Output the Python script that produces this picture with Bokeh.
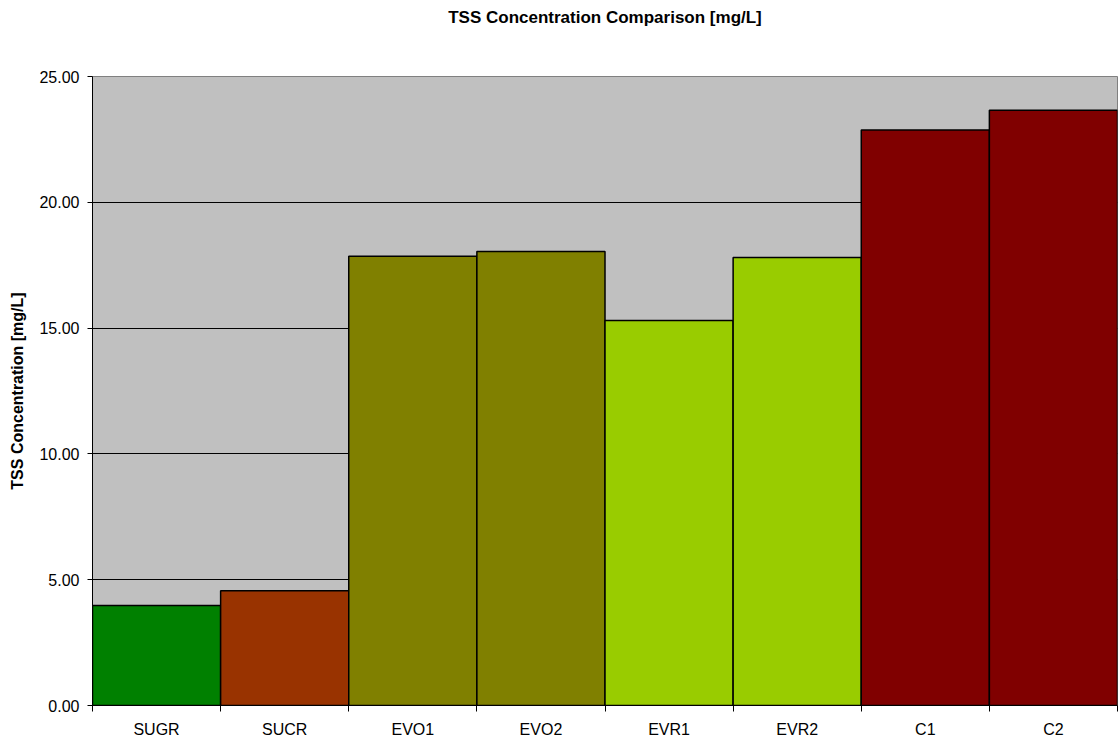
from bokeh.plotting import figure
from bokeh.models import ColumnDataSource, FixedTicker, NumeralTickFormatter, Range1d, Title
from bokeh.embed import file_html
from bokeh.resources import INLINE

categories = ["SUGR", "SUCR", "EVO1", "EVO2", "EVR1", "EVR2", "C1", "C2"]
values = [3.97, 4.56, 17.86, 18.04, 15.30, 17.81, 22.87, 23.66]
colors = ["#008000", "#993300", "#808000", "#808000", "#99CC00", "#99CC00", "#800000", "#800000"]
title_text = "TSS Concentration Comparison [mg/L]"

centers = [i + 0.5 for i in range(len(categories))]
src = ColumnDataSource(dict(x=centers, top=values, color=colors, cat=categories))

FONT = "Liberation Sans"

p = figure(width=1119, height=742, output_backend="svg", toolbar_location=None,
           x_range=Range1d(0, len(categories)), y_range=Range1d(0, 25),
           min_border_left=92, min_border_right=2, min_border_top=76, min_border_bottom=37)

# spacer between frame and title (nearest to frame)
p.add_layout(Title(text=" ", text_font=FONT, text_font_size="17px", standoff=20), "above")
p.add_layout(Title(text=title_text, align="center", vertical_align="top", standoff=14,
                   text_font=FONT, text_font_size="17px", text_font_style="bold",
                   text_color="black"), "above")

p.background_fill_color = "#C0C0C0"
p.border_fill_color = "white"
p.outline_line_color = "#808080"
p.outline_line_width = 1

p.vbar(x="x", top="top", bottom=0, width=1.0, source=src,
       fill_color="color", line_color="black", line_width=1.5)

p.xgrid.visible = False
p.ygrid.ticker = FixedTicker(ticks=[5, 10, 15, 20, 25])
p.ygrid.grid_line_color = "black"
p.ygrid.grid_line_width = 1

ya = p.yaxis[0]
ya.ticker = FixedTicker(ticks=[0, 5, 10, 15, 20, 25])
ya.formatter = NumeralTickFormatter(format="0.00")
ya.axis_label = "TSS Concentration [mg/L]"
ya.axis_label_text_font = FONT
ya.axis_label_text_font_size = "16px"
ya.axis_label_text_font_style = "bold"
ya.axis_label_text_color = "black"
ya.axis_label_standoff = 10
ya.major_label_text_font = FONT
ya.major_label_text_font_size = "16px"
ya.major_label_text_color = "black"
ya.major_tick_out = 5
ya.major_tick_in = 0
ya.minor_tick_out = 0
ya.minor_tick_in = 0
ya.axis_line_color = "black"
ya.major_tick_line_color = "black"
ya.major_label_standoff = 8

xa = p.xaxis[0]
xa.ticker = FixedTicker(ticks=centers, minor_ticks=list(range(len(categories) + 1)))
xa.major_label_overrides = {c: n for c, n in zip(centers, categories)}
xa.major_label_text_font = FONT
xa.major_label_text_font_size = "16px"
xa.major_label_text_color = "black"
xa.major_tick_out = 0
xa.major_tick_in = 0
xa.minor_tick_out = 6
xa.minor_tick_in = 0
xa.minor_tick_line_color = "black"
xa.axis_line_color = "black"
xa.major_label_standoff = 9

open("out.html", "w").write(file_html(p, INLINE))
